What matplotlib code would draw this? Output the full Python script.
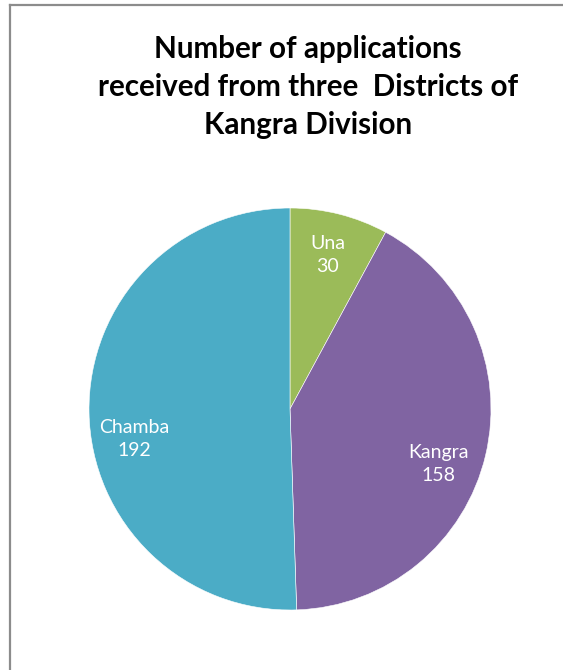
import matplotlib
matplotlib.use("Agg")
import matplotlib.pyplot as plt
from matplotlib.lines import Line2D
import numpy as np

districts = ["Una", "Kangra", "Chamba"]
applications = [30, 158, 192]
colors = ["#9BBB59", "#8064A2", "#4BACC6"]
title = "Number of applications\nreceived from three  Districts of\nKangra Division"

W, H = 563, 670
fig = plt.figure(figsize=(W / 100, H / 100), dpi=100)
plt.rcParams["font.family"] = ["Lato", "DejaVu Sans"]

# pie axes: centre (290, 409) px, radius 201 px
cx, cy, r = 290, 409, 201
ax = fig.add_axes([(cx - r) / W, (H - cy - r) / H, 2 * r / W, 2 * r / H])
wedges, _ = ax.pie(applications, colors=colors, startangle=90, counterclock=False,
                   radius=1, wedgeprops=dict(edgecolor="white", linewidth=0.4))
ax.set_xlim(-1, 1)
ax.set_ylim(-1, 1)

# data labels, nudged around the wedge middle like Excel's best fit
nudge = [0.5, -7, 10]
for w, name, val, dn in zip(wedges, districts, applications, nudge):
    ang = np.deg2rad((w.theta1 + w.theta2) / 2 + dn)
    x, y = 0.79 * np.cos(ang), 0.79 * np.sin(ang)
    ax.text(x, y, f"{name}\n{val}", ha="center", va="center", color="white",
            fontsize=14, linespacing=1.45)

fig.text(308 / W, 1 - 87 / H, title, ha="center", va="center",
         fontsize=21.3, fontweight="bold", linespacing=1.42)

# chart frame (left and top edges visible)
fig.add_artist(Line2D([10 / W, 10 / W], [0, 1 - 5 / H], color="#8c8c8c", lw=1.6))
fig.add_artist(Line2D([10 / W, 1], [1 - 5 / H, 1 - 5 / H], color="#8c8c8c", lw=1.6))

fig.savefig("out.png", dpi=100)
